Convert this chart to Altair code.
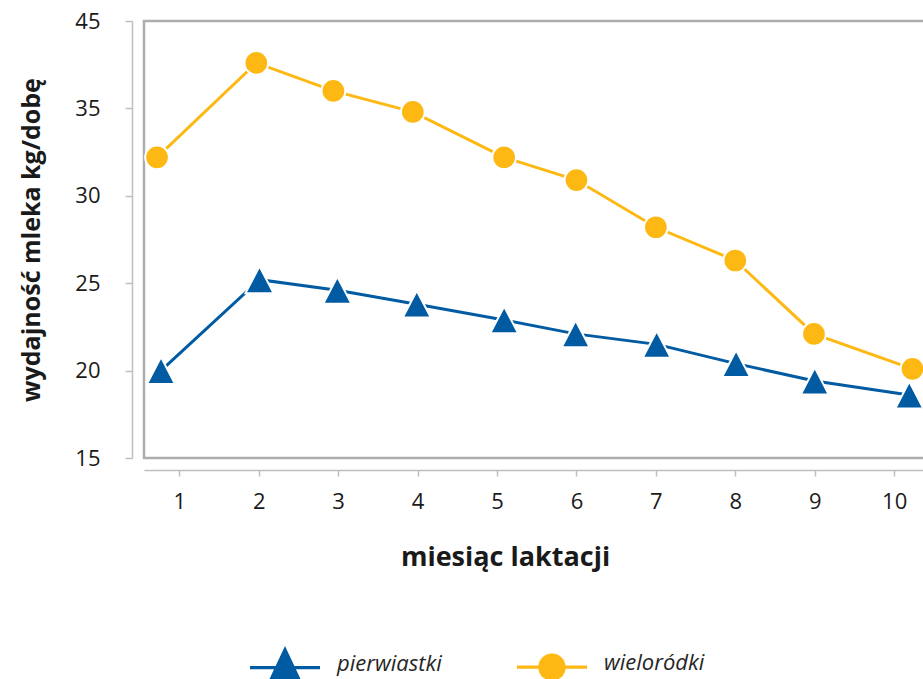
import altair as alt
import pandas as pd

# ---- data ----
series_names = ["pierwiastki", "wieloródki"]
pier_x = [0.77, 2.01, 2.99, 3.99, 5.09, 5.99, 7.01, 8.01, 9.00, 10.19]
pier_y = [20.0, 25.2, 24.6, 23.8, 22.9, 22.1, 21.5, 20.4, 19.4, 18.6]
wiel_x = [0.72, 1.97, 2.94, 3.94, 5.09, 6.00, 7.00, 8.00, 8.99, 10.23]
wiel_y = [32.2, 37.6, 36.0, 34.8, 32.2, 30.9, 28.2, 26.3, 22.1, 20.1]
x_ticks = [1, 2, 3, 4, 5, 6, 7, 8, 9, 10]
y_ticks = [15, 20, 25, 30, 35, 40]
colors = ["#005BA3", "#FDB813"]

df = pd.DataFrame({
    "series": [series_names[0]] * len(pier_x) + [series_names[1]] * len(wiel_x),
    "x": pier_x + wiel_x,
    "y": pier_y + wiel_y,
})

FONT = "Open Sans"

x_enc = alt.X(
    "x:Q",
    scale=alt.Scale(domain=[0.556, 10.413], nice=False, zero=False),
    axis=alt.Axis(values=x_ticks, title="miesiąc laktacji", offset=12, tickSize=6,
                  labelPadding=15, grid=False, titleX=361, titleY=95,
                  titleBaseline="alphabetic", titleAnchor="middle", titleAlign="center",
                  titleFontSize=27),
)
y_enc = alt.Y(
    "y:Q",
    scale=alt.Scale(domain=[15, 40], nice=False, zero=False),
    axis=alt.Axis(values=y_ticks, labelExpr="datum.value == 40 ? '45' : datum.label",
                  title="wydajność mleka kg/dobę", offset=12, tickSize=7,
                  labelPadding=25, grid=False, titlePadding=30, titleFontSize=25),
)

color_scale = alt.Scale(domain=series_names, range=colors)

tri_path = "M0,-0.96L1,0.96L-1,0.96Z"
circ_path = "M0.846,0A0.846,0.846,0,1,1,-0.846,0A0.846,0.846,0,1,1,0.846,0Z"

leg_tri = "M-1,0.069H1V0.159H-1Z M0,-0.506L0.46,0.474L-0.46,0.474Z"
leg_circ = "M-1,0.069H1V0.159H-1Z M0.39,0.114A0.39,0.39,0,1,1,-0.39,0.114A0.39,0.39,0,1,1,0.39,0.114Z"

lines = alt.Chart(df).mark_line(strokeWidth=3).encode(
    x=x_enc, y=y_enc,
    color=alt.Color("series:N", scale=color_scale, legend=None),
)

points = alt.Chart(df).mark_point(filled=True, opacity=1, stroke="white", strokeWidth=2, size=784).encode(
    x=x_enc, y=y_enc,
    color=alt.Color("series:N", scale=color_scale, legend=None),
    shape=alt.Shape("series:N", scale=alt.Scale(domain=series_names, range=[tri_path, circ_path]), legend=None),
)

leg = alt.Legend(
    title=None, orient="none", legendX=106, legendY=607, direction="horizontal",
    symbolSize=4900, symbolStrokeWidth=0, symbolOpacity=1,
    labelFont=FONT, labelFontStyle="italic", labelFontSize=22, labelColor="#262626",
    labelOffset=17, columnPadding=75, padding=0,
)

legend_layer = alt.Chart(df).transform_filter("false").mark_point(filled=True, opacity=1, strokeWidth=0).encode(
    x=x_enc, y=y_enc,
    color=alt.Color("series:N", scale=color_scale, legend=leg),
    shape=alt.Shape("series:N", scale=alt.Scale(domain=series_names, range=[leg_tri, leg_circ]), legend=leg),
)

chart = (
    alt.layer(lines, points, legend_layer)
    .resolve_scale(shape="independent", color="independent")
    .properties(
        width=783, height=437,
        background="white",
        autosize=alt.AutoSizeParams(type="none"),
        padding={"left": 144, "top": 21, "right": -4, "bottom": 221},
    )
    .configure_view(stroke="#ADADAD", strokeWidth=2.5)
    .configure_axis(
        domainColor="#BFBFBF", domainWidth=1.5, tickColor="#BFBFBF", tickWidth=1.5,
        labelFont=FONT, labelFontSize=22, labelColor="#1a1a1a",
        titleFont=FONT, titleFontWeight="bold", titleFontSize=23, titleColor="#1a1a1a",
    )
)

chart.save("out.html", embed_options={"renderer": "svg", "actions": False})
